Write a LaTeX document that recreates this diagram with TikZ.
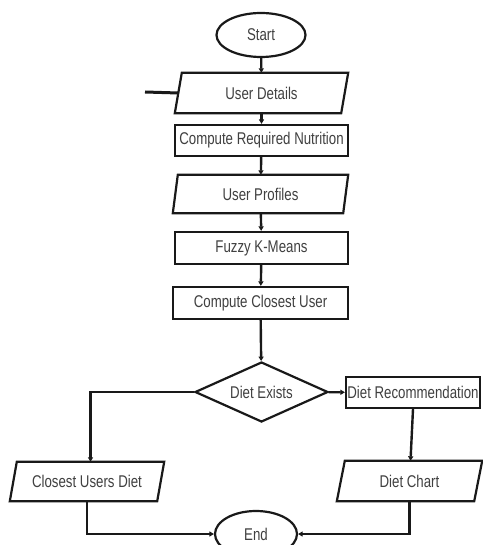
\documentclass[tikz,border=0pt]{standalone}
\usepackage{fontspec}
\setmainfont{Liberation Sans}[FakeStretch=0.78]
\usetikzlibrary{shapes.geometric,arrows.meta}
\newcommand\drawpara[2]{\draw[outline] ([xshift=#2]#1.north west) -- (#1.north east) -- ([xshift=-#2]#1.south east) -- (#1.south west) -- cycle;}
\begin{document}
\begin{tikzpicture}[x=1pt,y=-1pt,
  outline/.style={draw=black!90, line width=2.2pt, line join=miter},
  lbl/.style={text=black!75, font=\fontsize{17}{17}\selectfont, inner sep=0pt},
  term/.style={lbl, ellipse, outline, minimum width=#1},
  procbox/.style={lbl, rectangle, outline},
  iobox/.style={lbl, rectangle},
  decision/.style={lbl, diamond, outline, aspect=2.2},
  conn/.style={draw=black!90, line width=2.4pt, -{Triangle[length=4.5pt,width=5pt]}},
  plain/.style={draw=black!90, line width=2.4pt}
]
\fill[white] (0,0) rectangle (482,545);
\useasboundingbox (0,0) rectangle (482,545);

\node[term=89pt, minimum height=44pt] (start) at (261,35) {Start};
\node[iobox, minimum width=173pt, minimum height=40pt] (ud) at (261.5,93) {User Details};
\drawpara{ud}{7pt}
\node[procbox, minimum width=173pt, minimum height=31pt] (crn) at (261.5,140.5) {Compute Required Nutrition};
\node[iobox, minimum width=175pt, minimum height=38pt] (up) at (260.5,194) {User Profiles};
\drawpara{up}{5pt}
\node[procbox, minimum width=173pt, minimum height=32pt] (fkm) at (261.5,248) {Fuzzy K-Means};
\node[procbox, minimum width=175pt, minimum height=32pt] (ccu) at (260.5,303) {Compute Closest User};
\node[decision, minimum width=133pt, minimum height=60pt] (de) at (261.5,392) {Diet Exists};
\node[procbox, minimum width=134pt, minimum height=31pt] (dr) at (413,392.5) {Diet Recommendation};
\node[iobox, minimum width=145pt, minimum height=40pt] (dc) at (409.5,481) {Diet Chart};
\drawpara{dc}{8pt}
\node[iobox, minimum width=154pt, minimum height=39pt] (cud) at (87,481.5) {Closest Users Diet};
\drawpara{cud}{7pt}
\node[term=82pt, minimum height=46pt] (end) at (256,534) {End};

\coordinate (in) at (145,92);
\draw[plain, line width=3pt] (in) -- ([xshift=3.5pt]ud.west);
\draw[conn] (start) -- (ud);
\draw[conn] (ud) -- (crn);
\draw[conn] (crn) -- (up);
\draw[conn] (up) -- (fkm);
\draw[conn] (fkm) -- (ccu);
\draw[conn] (ccu) -- (de);
\draw[conn] (de) -- (dr);
\draw[conn] (de.west) -| ([xshift=3.5pt]cud.north);
\draw[conn] (dr.south) -- ([xshift=1pt]dc.north);
\draw[conn] ([xshift=0pt]cud.south) |- (end.west);
\draw[conn] ([xshift=0pt]dc.south) |- (end.east);
\end{tikzpicture}
\end{document}
